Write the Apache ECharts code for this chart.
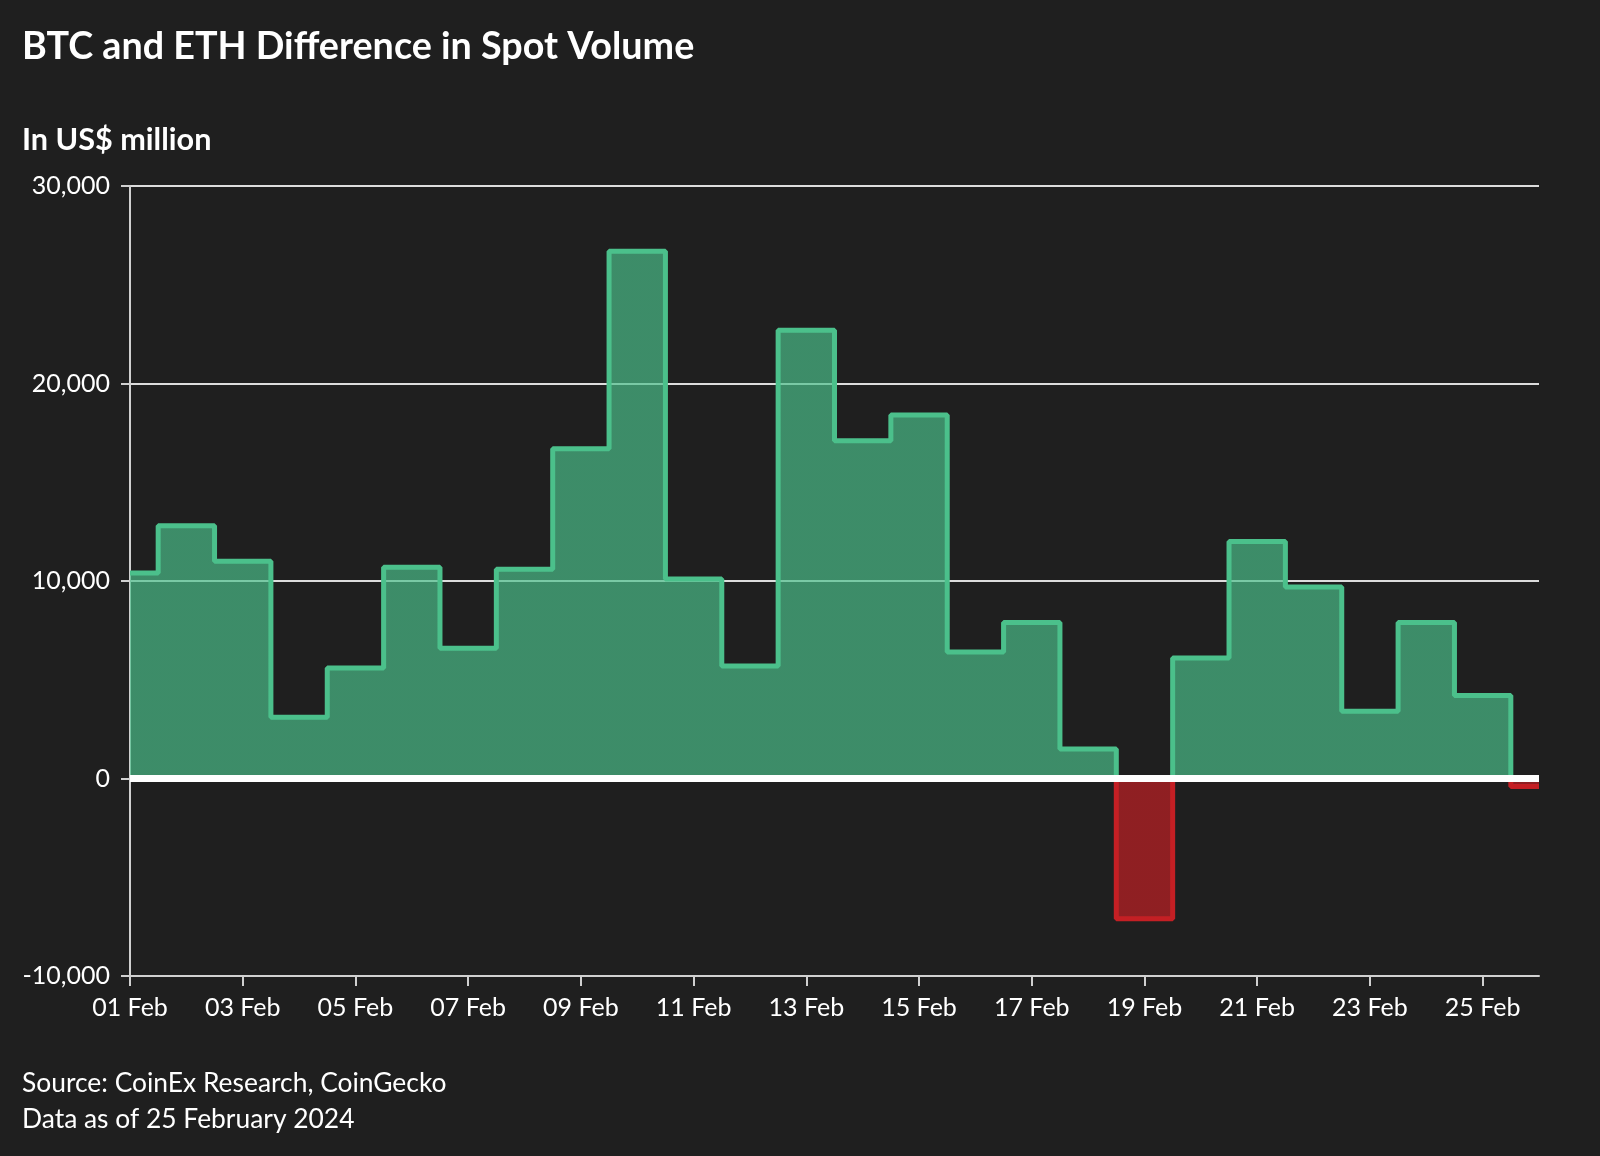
<!DOCTYPE html>
<html lang="en">
<head>
<meta charset="UTF-8">
<title>BTC and ETH Difference in Spot Volume</title>
<script src="https://cdn.jsdelivr.net/npm/echarts@6/dist/echarts.min.js"></script>
<style>
  html, body { margin: 0; padding: 0; background: #1f1f1f; }
</style>
</head>
<body>
<div id="main" style="width:1600px;height:1156px;"></div>
<script>
// daily BTC minus ETH spot volume, US$ million
const days = ['01 Feb', '02 Feb', '03 Feb', '04 Feb', '05 Feb', '06 Feb', '07 Feb', '08 Feb', '09 Feb',
  '10 Feb', '11 Feb', '12 Feb', '13 Feb', '14 Feb', '15 Feb', '16 Feb', '17 Feb', '18 Feb', '19 Feb',
  '20 Feb', '21 Feb', '22 Feb', '23 Feb', '24 Feb', '25 Feb', '26 Feb'];
const diff = [10400, 12800, 11000, 3100, 5600, 10700, 6600, 10600, 16700,
  26700, 10100, 5700, 22700, 17100, 18400, 6400, 7900, 1500, -7100,
  6100, 12000, 9700, 3400, 7900, 4200, -400];
const yTicks = { min: -10000, max: 30000, step: 10000 };

const font = 'Lato, "Noto Sans", sans-serif';
const chart = echarts.init(document.getElementById('main'));

function label(y, text, weight, size) {
  return {
    type: 'text', x: 22, y: y,
    style: { text: text, fill: '#fff', font: weight + ' ' + size + 'px ' + font, verticalAlign: 'middle' }
  };
}

chart.setOption({
  backgroundColor: '#1f1f1f',
  textStyle: { fontFamily: font },
  graphic: [
    label(47, 'BTC and ETH Difference in Spot Volume', 'bold', 37.7),
    label(140, 'In US$ million', 'bold', 30.6),
    label(1083, 'Source: CoinEx Research, CoinGecko', 'normal', 26.4),
    label(1119, 'Data as of 25 February 2024', 'normal', 26.4)
  ],
  grid: { left: 130, right: 61, top: 186, bottom: 180 },
  xAxis: {
    type: 'category',
    data: days,
    boundaryGap: false,
    axisLine: { onZero: false, lineStyle: { color: '#d0d0d0', width: 2 } },
    axisTick: { interval: 1, length: 10, lineStyle: { color: '#d0d0d0', width: 2 } },
    axisLabel: { interval: 1, color: '#fff', fontSize: 25, margin: 19 },
    splitLine: { show: false }
  },
  yAxis: {
    type: 'value',
    min: yTicks.min,
    max: yTicks.max,
    interval: yTicks.step,
    axisLine: { show: true, lineStyle: { color: '#d0d0d0', width: 2 } },
    axisTick: { show: true, length: 9, lineStyle: { color: '#d0d0d0', width: 2 } },
    axisLabel: {
      color: '#fff', fontSize: 25, margin: 20,
      formatter: v => v.toLocaleString('en-US')
    },
    splitLine: { lineStyle: { color: '#dcdcdc', width: 2 } }
  },
  visualMap: {
    show: false,
    seriesIndex: 0,
    dimension: 1,
    pieces: [
      { gt: 0, lte: yTicks.max, color: '#4bc08b' },
      { gte: yTicks.min, lte: 0, color: '#c41f24' }
    ],
    outOfRange: { color: '#4bc08b' }
  },
  series: [{
    type: 'line',
    step: 'middle',
    data: diff,
    symbol: 'none',
    lineStyle: { width: 5 },
    areaStyle: { opacity: 0.68 },
    markLine: {
      silent: true,
      symbol: 'none',
      label: { show: false },
      lineStyle: { color: '#ffffff', width: 7, type: 'solid' },
      data: [{ yAxis: 0 }]
    }
  }]
});
</script>
</body>
</html>
